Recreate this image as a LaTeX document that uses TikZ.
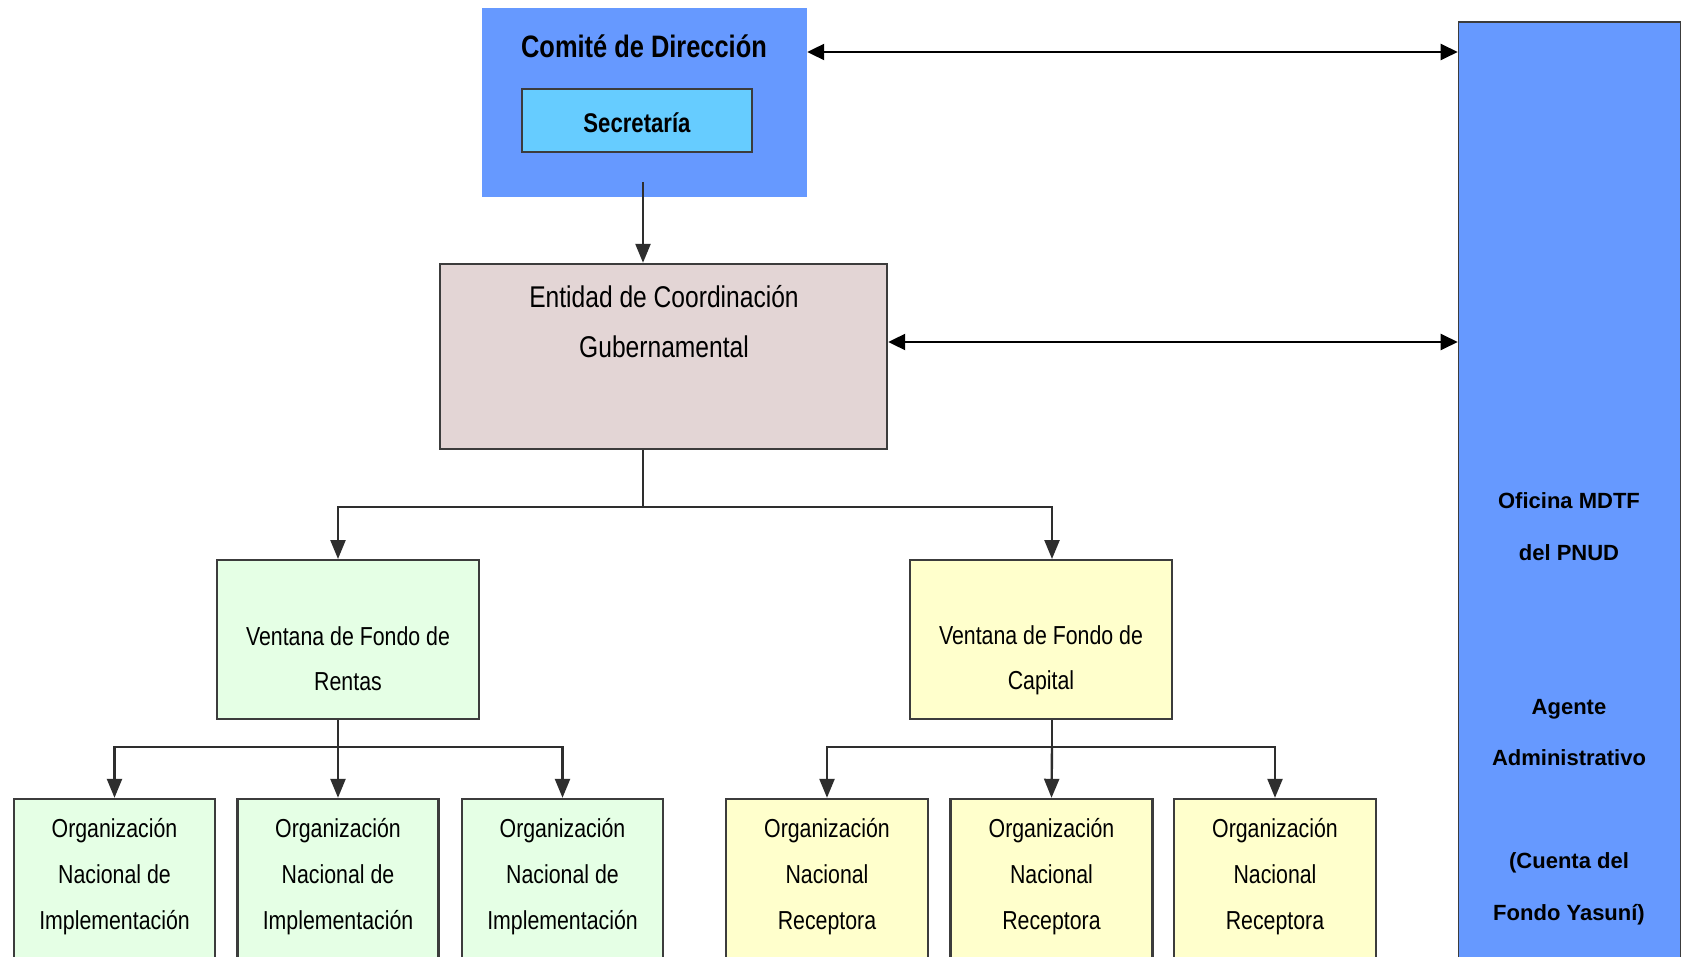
\documentclass[tikz,border=0pt]{standalone}
\usepackage{fontspec}
\setmainfont{Liberation Sans}
\newfontfamily\narrowfont[FakeStretch=0.82]{Liberation Sans}
\usetikzlibrary{arrows.meta}
\definecolor{comiteblue}{HTML}{6699FF}
\definecolor{secblue}{HTML}{66CCFF}
\definecolor{entpink}{HTML}{E3D5D5}
\definecolor{greenbox}{HTML}{E5FFE5}
\definecolor{yellowbox}{HTML}{FFFFCC}
\definecolor{edgegray}{HTML}{3C3C3C}
\definecolor{linegray}{HTML}{2E2E2E}
\begin{document}
\begin{tikzpicture}[x=1pt,y=-1pt,
  box/.style={rectangle, draw=edgegray, line width=2.4pt, inner sep=0pt},
  plainbox/.style={rectangle, inner sep=0pt},
  conn/.style={draw=linegray, line width=2.4pt},
  arr/.style={conn, -{Triangle[length=19pt,width=15pt]}},
  darr/.style={draw=black, line width=2.2pt, {Triangle[length=17pt,width=16pt]}-{Triangle[length=17pt,width=16pt]}},
  txt/.style={inner sep=0pt, align=center, anchor=base, text=black},
]
\clip (0,0) rectangle (1683,957);
\fill[white] (0,0) rectangle (1683,957);

% boxes
\node[plainbox, fill=comiteblue, minimum width=325pt, minimum height=189pt] (comite) at (644.5,102.5) {};
\node[box, fill=secblue, line width=2pt, minimum width=230pt, minimum height=63pt] (secret) at (637,120.5) {};
\node[box, fill=entpink, minimum width=447pt, minimum height=185pt] (entidad) at (663.5,356.5) {};
\node[box, fill=greenbox, minimum width=262pt, minimum height=159pt] (rentas) at (348,639.5) {};
\node[box, fill=yellowbox, minimum width=262pt, minimum height=159pt] (capital) at (1041,639.5) {};
\node[box, fill=comiteblue, line width=1.6pt, minimum width=222pt, minimum height=968pt] (oficina) at (1569.5,506) {};

\node[box, fill=greenbox, minimum width=201pt, minimum height=186pt] (g1) at (114.5,892) {};
\node[box, fill=greenbox, minimum width=201pt, minimum height=186pt] (g2) at (338,892) {};
\node[box, fill=greenbox, minimum width=201pt, minimum height=186pt] (g3) at (562.5,892) {};
\node[box, fill=yellowbox, minimum width=202pt, minimum height=186pt] (y1) at (827,892) {};
\node[box, fill=yellowbox, minimum width=202pt, minimum height=186pt] (y2) at (1051.5,892) {};
\node[box, fill=yellowbox, minimum width=202pt, minimum height=186pt] (y3) at (1275,892) {};

% texts (anchor=base is the baseline of the last line)
\node[txt, font=\narrowfont\bfseries\fontsize{31}{36}\selectfont] (comitetxt) at (644,58) {Comité de Dirección};
\node[txt, font=\narrowfont\bfseries\fontsize{27}{32}\selectfont] (secrettxt) at (637,133) {Secretaría};
\node[txt, font=\narrowfont\fontsize{30}{51}\selectfont] (entidadtxt) at (664,358) {Entidad de Coordinación\\Gubernamental};
\node[txt, font=\narrowfont\fontsize{26}{45}\selectfont] (rentastxt) at (348,690) {Ventana de Fondo de\\Rentas};
\node[txt, font=\narrowfont\fontsize{26}{45}\selectfont] (capitaltxt) at (1041,689) {Ventana de Fondo de\\Capital};
\node[txt, font=\bfseries\fontsize{22}{51.4}\selectfont] (oficinatxt) at (1569,920) {Oficina MDTF\\del PNUD\\[102.8pt]Agente\\Administrativo\\[51.4pt](Cuenta del\\Fondo Yasuní)};

\foreach \n/\x in {g1/114.5, g2/338, g3/562.5} {
  \node[txt, font=\narrowfont\fontsize{26}{46}\selectfont] (\n txt) at (\x,929) {Organización\\Nacional de\\Implementación};
}
\foreach \n/\x in {y1/827, y2/1051.5, y3/1275} {
  \node[txt, font=\narrowfont\fontsize{26}{46}\selectfont] (\n txt) at (\x,929) {Organización\\Nacional\\Receptora};
}

% connectors
\coordinate (cstart) at (643,182);
\draw[arr] (cstart) -- (cstart |- entidad.north);

\coordinate (ebus) at (643,507);
\coordinate (rin) at (338,559);
\coordinate (cin) at (1052,559);
\draw[conn] (entidad.south -| ebus) -- (ebus);
\draw[arr] (ebus) -| (rin);
\draw[arr] (ebus) -| (cin);

\coordinate (rbus) at (338,747);
\draw[conn] (rentas.south -| rbus) -- (rbus);
\draw[arr] (rbus) -| (g1.north);
\draw[arr] (rbus) -- (g2.north);
\draw[arr] (rbus) -| (g3.north);

\coordinate (cbus) at (1052,747);
\draw[conn] (capital.south -| cbus) -- (cbus);
\draw[arr] (cbus) -| (y1.north);
\draw[arr] (cbus) -- (y2.north);
\draw[arr] (cbus) -| (y3.north);

\coordinate (ytop) at (0,52);
\coordinate (ymid) at (0,342);
\draw[darr] (comite.east |- ytop) -- (oficina.west |- ytop);
\draw[darr] (entidad.east |- ymid) -- (oficina.west |- ymid);
\end{tikzpicture}
\end{document}
